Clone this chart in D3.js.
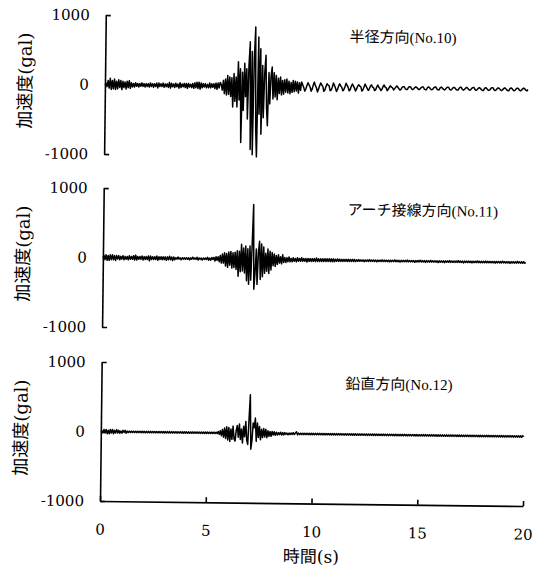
<!DOCTYPE html>
<html>
<head>
<meta charset="utf-8">
<script src="https://cdn.jsdelivr.net/npm/d3@7"></script>
<style>
  body { margin: 0; background: #fff; }
  svg { display: block; }
</style>
</head>
<body>
<div id="chart"></div>
<script>
// sampling interval of the records (s)
const dt = 0.05;

const xTicks = [0, 5, 10, 15, 20];
const yTicks = [-1000, 0, 1000];
const titles = ["半径方向(No.10)", "アーチ接線方向(No.11)", "鉛直方向(No.12)"];

// radial direction, one row per second
const accel10 = [
  0, 20, -30, 60, -50, 90, -70, 60, -60, 80, -70, 50, -60, 70, -40, 60, -70, 50, -40, 40,
  -60, 50, -40, 60, -50, 30, -30, 20, -30, 30, -20, 20, -30, 20, -20, 30, -20, 20, -30, 20,
  -20, 20, -30, 30, -20, 20, -30, 20, -20, 30, -40, 30, -20, 20, -20, 30, -30, 20, -20, 20,
  -30, 40, -40, 30, -20, 20, -30, 30, -20, 20, -40, 40, -30, 20, -20, 30, -30, 30, -40, 30,
  -20, 20, -30, 30, -40, 40, -30, 50, -40, 50, -50, 40, -30, 30, -20, 30, -30, 20, -30, 40,
  -30, 30, -20, 30, -40, 40, -50, 40, -30, 50, 20, -60, 80, -110, 100, -130, 150, -120, 130, -150,
  120, -300, 180, -220, 130, -300, 350, -200, 250, -810, 200, -350, 330, -150, 250, -470, 300, 640, -910, 500,
  -985, 400, 855, -600, -1015, 710, -400, 540, -690, 300, -450, 200, 450, -300, -565, 200, -250, 150, 280, -180,
  200, -150, 160, -190, 120, -100, 140, -120, 90, -110, 100, -80, 110, -90, 80, -100, 60, -80, 90, -70,
  80, -60, 70, -90, 60, -50, 70, 30, -10, -60, -30, 20, 60, 30, 0, -60, -30, 30, 70, 20,
  -10, -70, -30, 20, 60, 30, 10, -60, -40, 10, 50, 30, 20, -50, -40, 0, 60, 30, -10, -60,
  -30, 20, 50, 20, 0, -50, -30, 10, 60, 30, 0, -50, -30, 20, 50, 20, -10, -50, -20, 20,
  40, 20, 10, -50, -30, 10, 50, 20, -10, -40, -20, 20, 40, 10, 0, -40, -30, 10, 40, 10,
  -10, -40, -20, 20, 40, 10, 0, -40, -20, 10, 30, 10, 0, -30, -10, 10, 30, 10, -10, -30,
  -20, 10, 20, 20, -10, -20, -20, 10, 20, 20, -10, -20, -10, 10, 20, 10, -10, -20, -10, 10,
  20, 20, -10, -20, -20, 10, 20, 10, -10, -20, -10, 10, 20, 20, -10, -20, -20, 10, 20, 10,
  -10, -20, -10, 10, 20, 20, -10, -20, -10, 10, 20, 10, -10, -20, -20, 10, 20, 20, -10, -20,
  -10, 10, 20, 10, -10, -20, -10, 10, 20, 20, -10, -20, -10, 10, 20, 10, -10, -20, -20, 10,
  20, 10, -10, -20, -10, 10, 20, 20, -10, -20, -10, 10, 20, 10, -10, -20, -10, 10, 20, 10,
  -10, -20, -20, 10, 20, 10, -10, -20, -10, 10, 20, 10, -10, -20, -10, 10, 20, 10, -10, -20,
  0
];

// arch tangential direction
const accel11 = [
  0, 30, -30, 40, -40, 30, -40, 40, -30, 40, -30, 30, -40, 30, -20, 30, -30, 20, -20, 30,
  -30, 20, -20, 20, -30, 30, -20, 20, -20, 30, -30, 40, -30, 20, -20, 20, -20, 30, -30, 20,
  -20, 20, -20, 30, -40, 30, -20, 20, -20, 20, -20, 30, -30, 20, -20, 20, -20, 20, -20, 20,
  -30, 20, -20, 30, -20, 20, -30, 20, -20, 10, -10, 20, -10, 10, -20, 10, -10, 10, -10, 10,
  -10, 10, -20, 10, -10, 20, -10, 10, -10, 20, -20, 10, -10, 10, -20, 10, -10, 10, -10, 20,
  -20, 10, -20, 20, -10, 20, -30, 30, -20, 30, -40, 50, -60, 70, -60, 90, -100, 80, -120, 100,
  -90, 110, -130, 90, -120, 100, -150, 120, -245, 115, -180, 215, -170, 160, -200, 190, -310, 150, -360, 190,
  -300, 200, 790, -430, -200, 150, -360, 100, 260, -290, 220, -250, 180, -200, 90, -170, 150, -200, 120, -150,
  100, -90, 80, -100, 60, -70, 70, -50, 40, -60, 70, -40, 30, -40, 30, -30, 40, -30, 20, -30,
  30, -20, 20, -30, 30, -20, 20, -20, 30, -20, 20, -20, 20, -30, 20, -20, 20, -20, 20, -20,
  20, -20, 30, -20, 20, -20, 20, -20, 20, -20, 20, -20, 20, -20, 20, -20, 20, -20, 20, -20,
  15, -15, 20, -15, 15, -15, 15, -15, 15, -15, 15, -15, 15, -15, 15, -15, 15, -15, 15, -15,
  10, -10, 15, -10, 10, -10, 10, -15, 10, -10, 10, -10, 15, -10, 10, -10, 10, -10, 10, -15,
  10, -10, 10, -10, 15, -10, 10, -10, 10, -10, 10, -15, 10, -10, 10, -10, 15, -10, 10, -10,
  10, -15, 10, -10, 10, -10, 10, -10, 15, -10, 10, -10, 10, -10, 10, -15, 10, -10, 10, -10,
  15, -10, 10, -10, 10, -15, 10, -10, 10, -10, 15, -10, 10, -10, 10, -10, 10, -15, 10, -10,
  10, -10, 10, -15, 10, -10, 10, -10, 15, -10, 10, -10, 10, -10, 10, -10, 15, -10, 10, -10,
  10, -15, 10, -10, 10, -10, 10, -10, 10, -15, 10, -10, 10, -10, 15, -10, 10, -10, 10, -10,
  10, -10, 15, -10, 10, -10, 10, -10, 10, -10, 10, -15, 10, -10, 10, -10, 10, -10, 15, -10,
  10, -10, 10, -10, 10, -15, 10, -10, 10, -10, 10, -10, 15, -10, 10, -10, 10, -10, 10, -10,
  0
];

// vertical direction
const accel12 = [
  0, 10, -20, 30, -20, 30, -30, 20, -30, 30, -20, 30, -30, 20, -20, 30, -20, 20, -20, 10,
  -20, 20, -10, 20, -20, 10, -10, 10, -10, 10, -10, 10, -10, 10, -10, 10, -10, 10, -10, 10,
  -10, 10, -10, 10, -10, 10, -10, 10, -10, 10, -10, 10, -10, 10, -10, 10, -10, 10, -10, 10,
  -10, 10, -10, 10, -10, 10, -10, 10, -10, 10, -10, 10, -10, 10, -10, 10, -10, 10, -10, 10,
  -10, 10, -10, 10, -10, 10, -10, 10, -10, 10, -10, 10, -10, 10, -10, 10, -10, 10, -10, 10,
  -10, 10, -10, 10, -10, 10, -10, 10, -10, 10, -10, 20, -20, 30, -40, 50, -60, 70, -80, 90,
  -100, 80, -120, 60, -90, 100, -80, -115, 40, 110, -60, 130, -90, 60, -140, 100, -50, 170, -100, -160,
  200, 555, -230, -100, 150, 80, 220, -115, 150, -60, 100, -90, 60, -60, 70, -50, 60, -60, 40, -40,
  30, -40, 30, -20, 25, -25, 20, -20, 15, -15, 20, -20, 15, -20, 15, -10, 10, -15, 10, -10,
  10, -10, 15, -10, 10, 30, -15, 10, -10, 10, -10, 10, -10, 10, -10, 10, -10, 10, -10, 10,
  -10, 10, -10, 10, -10, 10, -10, 10, -10, 10, -10, 10, -10, 10, -10, 10, -10, 10, -10, 10,
  -10, 10, -10, 10, -10, 10, -10, 10, -10, 10, -10, 10, -10, 10, -10, 10, -10, 10, -10, 10,
  -10, 10, -10, 10, -10, 10, -10, 10, -10, 10, -10, 10, -10, 10, -10, 10, -10, 10, -10, 10,
  -10, 10, -10, 10, -10, 10, -10, 10, -10, 10, -10, 10, -10, 10, -10, 10, -10, 10, -10, 10,
  -10, 10, -10, 10, -10, 10, -10, 10, -10, 10, -10, 10, -10, 10, -10, 10, -10, 10, -10, 10,
  -10, 10, -10, 10, -10, 10, -10, 10, -10, 10, -10, 10, -10, 10, -10, 10, -10, 10, -10, 10,
  -10, 10, -10, 10, -10, 10, -10, 10, -10, 10, -10, 10, -10, 10, -10, 10, -10, 10, -10, 10,
  -10, 10, -10, 10, -10, 10, -10, 10, -10, 10, -10, 10, -10, 10, -10, 10, -10, 10, -10, 10,
  -10, 10, -10, 10, -10, 10, -10, 10, -10, 10, -10, 10, -10, 10, -10, 10, -10, 10, -10, 10,
  -10, 10, -10, 10, -10, 10, -10, 10, -10, 10, -10, 10, -10, 10, -10, 10, -10, 10, -10, 10,
  0
];

const records = [accel10, accel11, accel12];

const width = 544, height = 573;
const left = 100, right = 523;
const panelTops = [15, 188, 362];
const panelH = 139;

const svg = d3.select("#chart").append("svg")
    .attr("width", width)
    .attr("height", height);

// the scanned figure sits slightly skewed on the page
const g = svg.append("g")
    .attr("transform", "rotate(0.68, 100, 502)");

const x = d3.scaleLinear().domain([0, 20]).range([left, right]);

const serif = "'DejaVu Serif', 'Noto Sans CJK JP', serif";
const titleFont = "'Liberation Serif', 'Noto Sans CJK JP', serif";

records.forEach((rec, k) => {
    const top = panelTops[k];
    const y = d3.scaleLinear().domain([-1000, 1000]).range([top + panelH, top]);

    // y axis, ticks pointing inward
    const yAxis = d3.axisLeft(y)
        .tickValues(yTicks)
        .tickFormat(d => String(d))
        .tickSizeInner(-5)
        .tickSizeOuter(0)
        .tickPadding(16);

    const yg = g.append("g")
        .attr("transform", `translate(${left},0)`)
        .call(yAxis);
    yg.select(".domain").attr("stroke-width", 1.6);
    yg.selectAll(".tick line").attr("stroke-width", 1.6);
    yg.selectAll(".tick text")
        .attr("font-family", serif)
        .attr("font-size", 15)
        .attr("fill", "#000");

    // acceleration trace
    const line = d3.line()
        .x((d, i) => x(i * dt))
        .y(d => y(d));

    g.append("path")
        .datum(rec)
        .attr("d", line)
        .attr("fill", "none")
        .attr("stroke", "#000")
        .attr("stroke-width", 1.5)
        .attr("stroke-linejoin", "round");

    // y label
    g.append("text")
        .attr("transform", `translate(20,${y(0) - 3}) rotate(-90)`)
        .attr("text-anchor", "middle")
        .attr("dy", "0.35em")
        .attr("font-family", serif)
        .attr("font-size", 18)
        .text("加速度(gal)");

    // panel title
    g.append("text")
        .attr("x", 344)
        .attr("y", top + 24)
        .attr("font-family", titleFont)
        .attr("font-size", 15)
        .text(titles[k]);

    if (k === records.length - 1) {
        const xAxis = d3.axisBottom(x)
            .tickValues(xTicks)
            .tickSizeInner(-5)
            .tickSizeOuter(0)
            .tickPadding(23);

        const xg = g.append("g")
            .attr("transform", `translate(0,${top + panelH})`)
            .call(xAxis);
        xg.select(".domain").attr("stroke-width", 1.6);
        xg.selectAll(".tick line").attr("stroke-width", 1.6);
        xg.selectAll(".tick text")
            .attr("font-family", serif)
            .attr("font-size", 15)
            .attr("fill", "#000");

        g.append("text")
            .attr("x", x(10))
            .attr("y", top + panelH + 59)
            .attr("text-anchor", "middle")
            .attr("font-family", serif)
            .attr("font-size", 17)
            .text("時間(s)");
    }
});
</script>
</body>
</html>
